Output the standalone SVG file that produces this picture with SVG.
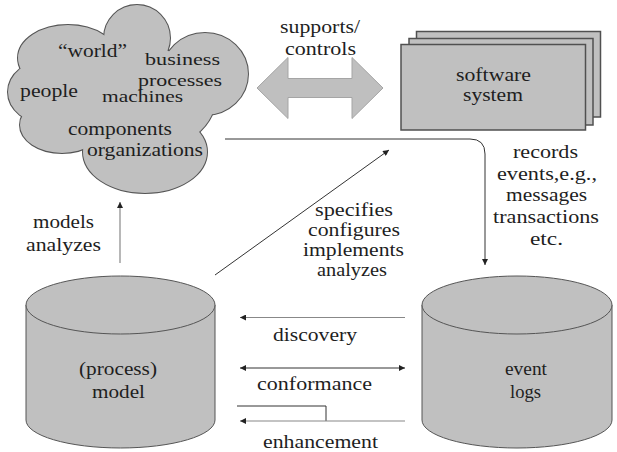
<svg xmlns="http://www.w3.org/2000/svg" width="617" height="452" viewBox="0 0 617 452">
<style>
text{font-family:'Liberation Serif','Times New Roman',serif;font-size:18px;fill:#1e1e1e}
.sm{font-size:17px}
.shape{fill:#c0c0c0;stroke:#555;stroke-width:1}
.box{fill:#c0c0c0;stroke:#505050;stroke-width:1.5}
.ln{fill:none;stroke:#333;stroke-width:1}
.lg{fill:none;stroke:#888;stroke-width:1.2}
</style>
<defs>
<marker id="ah" viewBox="0 0 10 10" refX="10" refY="5" markerWidth="8" markerHeight="6" orient="auto-start-reverse" markerUnits="userSpaceOnUse"><path d="M0,0 L10,5 L0,10 z" fill="#222"/></marker>
<g id="lobes">
<circle cx="137" cy="38" r="33"/>
<ellipse cx="205" cy="74" rx="43" ry="41"/>
<ellipse cx="145" cy="152" rx="62" ry="41"/>
<ellipse cx="62" cy="125" rx="42" ry="28"/>
<ellipse cx="48" cy="92" rx="40" ry="32"/>
<ellipse cx="68" cy="58" rx="50" ry="33"/>
<ellipse cx="130" cy="100" rx="85" ry="55"/>
</g>
</defs>
<rect width="617" height="452" fill="#fff"/>

<g id="world">
<use href="#lobes" fill="#c0c0c0" stroke="#555" stroke-width="2"/>
<use href="#lobes" fill="#c0c0c0" stroke="none"/>
<text x="58" y="57" textLength="69" lengthAdjust="spacingAndGlyphs">“world”</text>
<text class="sm" x="145" y="65" textLength="75" lengthAdjust="spacingAndGlyphs">business</text>
<text class="sm" x="138" y="86" textLength="84" lengthAdjust="spacingAndGlyphs">processes</text>
<text x="20" y="97" textLength="58" lengthAdjust="spacingAndGlyphs">people</text>
<text class="sm" x="102" y="102" textLength="81" lengthAdjust="spacingAndGlyphs">machines</text>
<text x="68" y="135" textLength="104" lengthAdjust="spacingAndGlyphs">components</text>
<text x="87" y="156" textLength="116" lengthAdjust="spacingAndGlyphs">organizations</text>
</g>

<g id="supports">
<path d="M257,88 L288,57.5 L288,78.5 L352,78.5 L352,57.5 L383,88 L352,118.5 L352,97.5 L288,97.5 L288,118.5 Z" fill="#bfbfbf" stroke="#a5a5a5" stroke-width="1"/>
<text x="280" y="33" textLength="80" lengthAdjust="spacingAndGlyphs">supports/</text>
<text x="285" y="55" textLength="71" lengthAdjust="spacingAndGlyphs">controls</text>
</g>

<g id="software">
<rect class="box" x="416.5" y="31.5" width="184" height="85.5"/>
<rect class="box" x="409" y="38.5" width="184" height="86.5"/>
<rect class="box" x="401" y="44.5" width="184.5" height="85.5"/>
<text x="456" y="81" textLength="75" lengthAdjust="spacingAndGlyphs">software</text>
<text x="463" y="101" textLength="60" lengthAdjust="spacingAndGlyphs">system</text>
</g>

<g id="model">
<path class="shape" d="M26,305 V420 A94.5,28 0 0 0 215,420 V305 Z"/>
<ellipse class="shape" cx="120.5" cy="305" rx="94.5" ry="29"/>
<text x="79" y="375" textLength="78" lengthAdjust="spacingAndGlyphs">(process)</text>
<text x="92" y="398" textLength="53" lengthAdjust="spacingAndGlyphs">model</text>
</g>

<g id="logs">
<path class="shape" d="M422,305 V420 A95,28 0 0 0 612,420 V305 Z"/>
<ellipse class="shape" cx="517" cy="305" rx="95" ry="29"/>
<text x="505" y="375" textLength="42" lengthAdjust="spacingAndGlyphs">event</text>
<text x="510" y="398" textLength="31" lengthAdjust="spacingAndGlyphs">logs</text>
</g>

<g id="connectors">
<line class="lg" x1="120" y1="263" x2="120" y2="202" marker-end="url(#ah)"/>
<line class="ln" x1="215" y1="275" x2="389" y2="150" marker-end="url(#ah)"/>
<path class="ln" d="M225,139 H470 Q485,139 485,154 V265" marker-end="url(#ah)"/>
<line class="lg" x1="405" y1="317.5" x2="240" y2="317.5" marker-end="url(#ah)"/>
<line class="ln" x1="240" y1="368" x2="405" y2="368" marker-start="url(#ah)" marker-end="url(#ah)"/>
<polyline class="ln" points="237,406 326,406 326,421"/>
<line class="lg" x1="405" y1="421" x2="240" y2="421" marker-end="url(#ah)"/>
</g>

<g id="labels">
<text x="33" y="228" textLength="61" lengthAdjust="spacingAndGlyphs">models</text>
<text x="26" y="251" textLength="75" lengthAdjust="spacingAndGlyphs">analyzes</text>
<text x="315" y="216" textLength="78" lengthAdjust="spacingAndGlyphs">specifies</text>
<text x="308" y="236" textLength="92" lengthAdjust="spacingAndGlyphs">configures</text>
<text x="303" y="256" textLength="101" lengthAdjust="spacingAndGlyphs">implements</text>
<text x="317" y="276" textLength="70" lengthAdjust="spacingAndGlyphs">analyzes</text>
<text x="513" y="158" textLength="65" lengthAdjust="spacingAndGlyphs">records</text>
<text x="497" y="180" textLength="100" lengthAdjust="spacingAndGlyphs">events,e.g.,</text>
<text x="506" y="201" textLength="81" lengthAdjust="spacingAndGlyphs">messages</text>
<text x="493" y="223" textLength="106" lengthAdjust="spacingAndGlyphs">transactions</text>
<text x="530" y="245" textLength="33" lengthAdjust="spacingAndGlyphs">etc.</text>
<text x="273" y="341" textLength="84" lengthAdjust="spacingAndGlyphs">discovery</text>
<text x="257" y="390" textLength="115" lengthAdjust="spacingAndGlyphs">conformance</text>
<text x="263" y="448" textLength="115" lengthAdjust="spacingAndGlyphs">enhancement</text>
</g>
</svg>
